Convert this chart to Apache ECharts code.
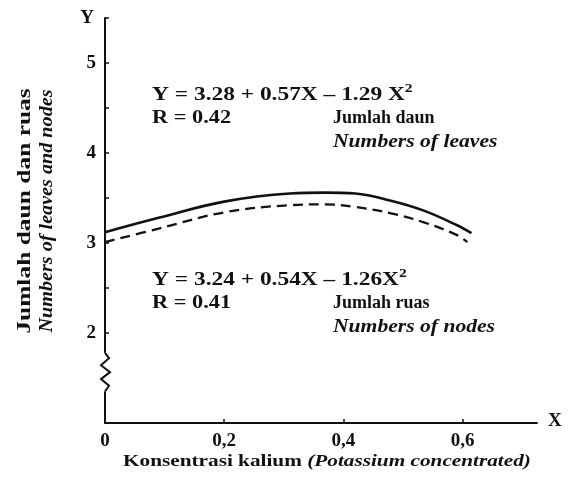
<!DOCTYPE html>
<html>
<head>
<meta charset="utf-8">
<script src="https://cdn.jsdelivr.net/npm/echarts@6/dist/echarts.min.js"></script>
<style>
  html, body { margin: 0; padding: 0; background: #fff; }
  #chart { width: 572px; height: 486px; }
</style>
</head>
<body>
<div id="chart"></div>
<script>
  // kalium concentration (x) and fitted curves
  var leavesX = [0, 0.09, 0.2, 0.31, 0.37, 0.42, 0.48, 0.535, 0.59, 0.615]
  var leavesY = [3.12, 3.28, 3.46, 3.55, 3.56, 3.55, 3.47, 3.36, 3.20, 3.11]
  var nodesX = [0, 0.09, 0.2, 0.31, 0.37, 0.42, 0.48, 0.535, 0.59, 0.608]
  var nodesY = [3.01, 3.16, 3.34, 3.42, 3.43, 3.40, 3.33, 3.23, 3.09, 3.01]
  var xTicks = [0, 0.2, 0.4, 0.6]
  var xTickLabels = ['0', '0,2', '0,4', '0,6']
  var yTicks = [2, 3, 4, 5]
  var yMinorTicks = [2, 2.5, 3, 3.5, 4, 4.5, 5, 5.5]
  var yBreak = [1.78, 1.35]

  var serif = '"Liberation Serif", "Times New Roman", serif'
  var ink = '#111'
  var grid = { left: 105, right: 35, top: 18, bottom: 63 }
  var yMin = 1, yMax = 5.5

  function pairs(xs, ys) {
    return xs.map(function (x, i) { return [x, ys[i]] })
  }

  var chart = echarts.init(document.getElementById('chart'), null, { renderer: 'canvas' })

  var tickFont = { fontFamily: serif, fontSize: 19, fontWeight: 'bold', color: ink }

  var option = {
    backgroundColor: '#fff',
    animation: false,
    grid: grid,
    xAxis: {
      type: 'value',
      min: 0,
      max: 0.725,
      axisLine: { lineStyle: { color: ink, width: 2 } },
      axisTick: { inside: true, length: 4, customValues: xTicks.slice(1), lineStyle: { color: ink, width: 1.5 } },
      axisLabel: Object.assign({
        customValues: xTicks,
        margin: 9,
        formatter: function (v) {
          var i = xTicks.indexOf(Math.round(v * 10) / 10)
          return i >= 0 ? xTickLabels[i] : ''
        }
      }, tickFont),
      splitLine: { show: false }
    },
    yAxis: {
      type: 'value',
      min: yMin,
      max: yMax,
      name: 'Y',
      nameLocation: 'end',
      nameGap: 0,
      nameTextStyle: Object.assign({
        align: 'right', verticalAlign: 'middle', padding: [0, 11, 0, 0]
      }, tickFont),
      axisLine: { lineStyle: { color: ink, width: 2 } },
      axisTick: { inside: true, length: 4, customValues: yMinorTicks, lineStyle: { color: ink, width: 1.5 } },
      axisLabel: Object.assign({ customValues: yTicks, margin: 9 }, tickFont),
      splitLine: { show: false }
    },
    series: [
      {
        name: 'Numbers of leaves',
        type: 'line',
        data: pairs(leavesX, leavesY),
        smooth: 0.4,
        showSymbol: false,
        lineStyle: { color: ink, width: 2.6 }
      },
      {
        name: 'Numbers of nodes',
        type: 'line',
        data: pairs(nodesX, nodesY),
        smooth: 0.4,
        showSymbol: false,
        lineStyle: { color: ink, width: 2.3, type: [10, 6] }
      }
    ]
  }
  chart.setOption(option)

  // annotations, axis titles and the axis break
  var txt = { fontFamily: serif, fontSize: 18, fontWeight: 'bold', fill: ink }
  var sup = { fontFamily: serif, fontSize: 12, fontWeight: 'bold', fill: ink, padding: [0, 0, 12, 0] }
  function label(x, y, text, sx, extra) {
    return {
      type: 'text', x: x, y: y, scaleX: sx, silent: true, z: 50,
      style: Object.assign({}, txt, { text: text, verticalAlign: 'middle', rich: { sup: sup } }, extra || {})
    }
  }
  var it = { fontStyle: 'italic' }

  var gridH = 486 - grid.top - grid.bottom
  function py(v) { return grid.top + (yMax - v) / (yMax - yMin) * gridH }
  var ax = grid.left, y0 = py(yBreak[0]), h = py(yBreak[1]) - y0
  var zig = [[0, 0], [4, 0.14], [-4, 0.32], [5, 0.5], [-4, 0.68], [4, 0.85], [0, 1]]

  chart.setOption({
    graphic: [
      label(152, 95, 'Y = 3.28 + 0.57X – 1.29 X{sup|2}', 1.3),
      label(152, 118, 'R = 0.42', 1.24),
      label(333, 118, 'Jumlah daun', 1.0),
      label(333, 142, 'Numbers of leaves', 1.2, it),
      label(152, 280, 'Y = 3.24 + 0.54X – 1.26X{sup|2}', 1.3),
      label(152, 303, 'R = 0.41', 1.24),
      label(333, 303, 'Jumlah ruas', 1.0),
      label(333, 327, 'Numbers of nodes', 1.2, it),
      label(123, 462, '{a|Konsentrasi kalium }{b|(Potassium concentrated)}', 1.25, {
        rich: {
          a: { fontFamily: serif, fontSize: 17, fontWeight: 'bold', fill: ink },
          b: { fontFamily: serif, fontSize: 17, fontWeight: 'bold', fontStyle: 'italic', fill: ink }
        }
      }),
      {
        type: 'text', x: 25, y: 211, rotation: Math.PI / 2, scaleX: 1.34, silent: true, z: 50,
        style: Object.assign({}, txt, { text: 'Jumlah daun dan ruas', align: 'center', verticalAlign: 'middle', fontSize: 19 })
      },
      {
        type: 'text', x: 47, y: 211, rotation: Math.PI / 2, scaleX: 1.12, silent: true, z: 50,
        style: Object.assign({}, txt, { text: 'Numbers of leaves and nodes', align: 'center', verticalAlign: 'middle', fontStyle: 'italic' })
      },
      {
        type: 'rect', silent: true, z: 60,
        shape: { x: ax - 7, y: y0, width: 14, height: h },
        style: { fill: '#fff' }
      },
      {
        type: 'polyline', silent: true, z: 61,
        shape: { points: zig.map(function (p) { return [ax + p[0], y0 + p[1] * h] }) },
        style: { stroke: ink, lineWidth: 2, fill: null }
      },
      {
        type: 'text', x: 548, y: 421, silent: true, z: 50,
        style: Object.assign({}, txt, { text: 'X', verticalAlign: 'middle', fontSize: 19 })
      }
    ]
  })
</script>
</body>
</html>
